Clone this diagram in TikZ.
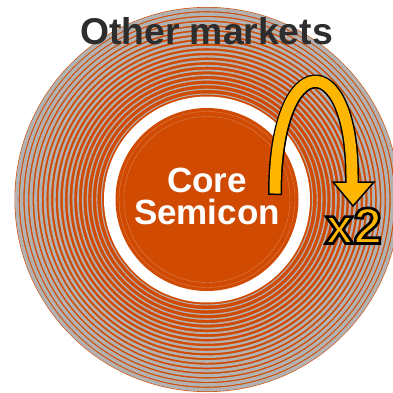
\documentclass[tikz,border=0pt]{standalone}
\usepackage{fontspec}
\setmainfont{Liberation Sans}
\definecolor{pwcorange}{HTML}{D04A02}
\definecolor{ringgray}{HTML}{B2B2B2}
\definecolor{pwcyellow}{HTML}{FFB600}
\definecolor{textdark}{HTML}{2D2D2D}
\newcommand{\outlined}[1]{\special{pdf:literal direct 2 Tr 2.6 w 0 0 0 RG}#1\special{pdf:literal direct 0 Tr 1 w}}
\tikzset{
  bigtext/.style={font=\bfseries\fontsize{#1}{#1}\selectfont},
  loopline/.style={line width=14pt,draw=black},
  loopfill/.style={line width=11pt,draw=pwcyellow}
}

\begin{document}
\begin{tikzpicture}[x=1pt,y=1pt]
\useasboundingbox (0,0) rectangle (393,392);
\clip (0,0) rectangle (393,392);
\coordinate (c) at (207,192.5);
\fill[pwcorange] (c) circle (192.5);
\foreach \i in {0,...,18}
  \draw[ringgray,line width={1+0.145*\i}] (c) circle ({105.5+4.7*\i});
\fill[white] (c) circle (103);
\fill[pwcorange] (c) circle (91.5);
\draw[pwcorange!70!white,line width=0.4] (c) circle (83) (c) circle (88);

\node[bigtext=37.3,text=textdark,anchor=base] (others) at (206.5,348) {Other markets};
\node[bigtext=35,text=white,align=center,inner sep=0pt] (core) at (207,196)
  {Core\\[-3pt]Semicon};

\coordinate (loopstart) at (275,197);
\coordinate (loopbend) at (352,216);
\coordinate (loopend) at (352,210);
\filldraw[fill=pwcyellow,draw=black,line width=1.5pt,line join=miter]
  (333,210) -- (374,210) -- (353,186) -- cycle;
\draw[loopline] (loopstart) .. controls (275,345) and (352,345) .. (loopbend) -- (loopend);
\draw[loopfill,shorten <=1.5pt] (loopstart) .. controls (275,345) and (352,345) .. (loopbend) -- (352,208.5);
\node[bigtext=51,text=pwcyellow,anchor=base] (times) at (353.5,148.5) {\outlined{x2}};
\end{tikzpicture}
\end{document}
